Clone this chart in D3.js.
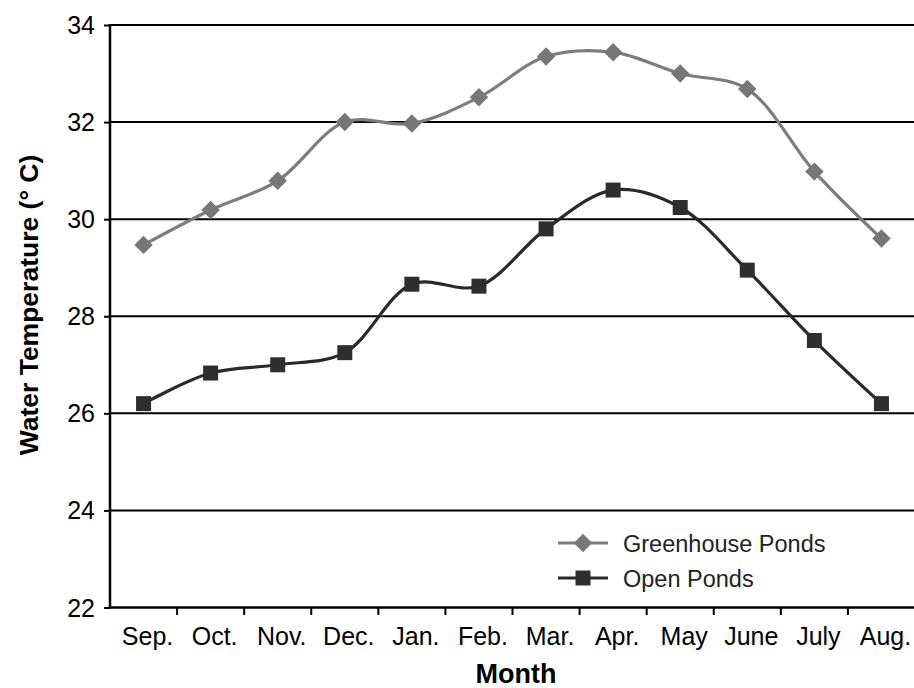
<!DOCTYPE html>
<html><head><meta charset="utf-8">
<script src="https://cdn.jsdelivr.net/npm/d3@7/dist/d3.min.js"></script>
<style>body{margin:0;background:#fff}svg{display:block}text{font-family:"Liberation Sans",Arial,sans-serif}</style>
</head><body>
<svg id="c" width="914" height="688"></svg>
<script>
const months = ["Sep.","Oct.","Nov.","Dec.","Jan.","Feb.","Mar.","Apr.","May","June","July","Aug."];
const greenhouse = [29.47,30.19,30.79,32.0,31.97,32.51,33.35,33.44,33.0,32.68,30.98,29.6];
const openPonds = [26.2,26.83,27.0,27.25,28.66,28.62,29.8,30.6,30.24,28.95,27.5,26.2];
const yTicks = [22,24,26,28,30,32,34];
const seriesNames = ["Greenhouse Ponds","Open Ponds"];

const svg = d3.select("#c");
const x = d3.scaleBand().domain(months).range([110, 915]);
const y = d3.scaleLinear().domain([22,34]).range([607.5, 25]);

// gridlines
svg.append("g").selectAll("line").data(yTicks.filter(d=>d>22)).join("line")
  .attr("x1",110).attr("x2",914).attr("y1",d=>y(d)).attr("y2",d=>y(d))
  .attr("stroke","#000").attr("stroke-width",2);

// y axis
const ya = svg.append("g").attr("transform","translate(110,0)")
  .call(d3.axisLeft(y).tickValues(yTicks).tickSize(6).tickPadding(9).tickFormat(d3.format("d")));
ya.select(".domain").attr("stroke","#000").attr("stroke-width",2.5).attr("d","M0,24V608.5");
ya.selectAll(".tick line").attr("stroke","#000").attr("stroke-width",2);
ya.selectAll("text").attr("font-size",25).attr("fill","#000").attr("dy","0.34em");

// x axis
const xa = svg.append("g").attr("transform","translate(0,607.5)")
  .call(d3.axisBottom(x).tickSize(0).tickPadding(0));
xa.select(".domain").attr("stroke","#000").attr("stroke-width",2.5).attr("d","M109,0H914");
xa.selectAll(".tick text").attr("font-size",25).attr("fill","#000").attr("y",37).attr("dy",0).attr("dx",4);
// boundary ticks
svg.append("g").selectAll("line").data(months.slice(1)).join("line")
  .attr("x1",d=>x(d)).attr("x2",d=>x(d)).attr("y1",607.5).attr("y2",615)
  .attr("stroke","#000").attr("stroke-width",2);

const cx = d=>x(d)+x.bandwidth()/2;
const line = d3.line().x((d,i)=>cx(months[i])).y(d=>y(d)).curve(d3.curveCatmullRom.alpha(0.5));

const gCol = "#7d7d7d", oCol = "#2a2a2a";
svg.append("path").datum(greenhouse).attr("d",line).attr("fill","none").attr("stroke",gCol).attr("stroke-width",3.2);
svg.append("path").datum(openPonds).attr("d",line).attr("fill","none").attr("stroke",oCol).attr("stroke-width",3.2);

const diamond = d3.symbol().type(d3.symbolSquare).size(170);
svg.append("g").selectAll("path").data(greenhouse).join("path")
  .attr("d",diamond()).attr("transform",(d,i)=>`translate(${cx(months[i])},${y(d)}) rotate(45)`)
  .attr("fill","#777");
svg.append("g").selectAll("rect").data(openPonds).join("rect")
  .attr("x",(d,i)=>cx(months[i])-7.5).attr("y",d=>y(d)-7.5).attr("width",15).attr("height",15)
  .attr("fill","#2e2e2e");

// legend
const lg = svg.append("g");
const rows = [{n:seriesNames[0],c:gCol,y:543},{n:seriesNames[1],c:oCol,y:578}];
rows.forEach((r,i)=>{
  lg.append("line").attr("x1",558).attr("x2",608).attr("y1",r.y).attr("y2",r.y).attr("stroke",r.c).attr("stroke-width",3.2);
  if(i===0) lg.append("path").attr("d",diamond()).attr("transform",`translate(583,${r.y}) rotate(45)`).attr("fill","#777");
  else lg.append("rect").attr("x",575.5).attr("y",r.y-7.5).attr("width",15).attr("height",15).attr("fill","#2e2e2e");
  lg.append("text").attr("x",623).attr("y",r.y+9).attr("font-size",23.5).attr("fill","#222").text(r.n);
});

// titles
svg.append("text").attr("transform","translate(38,305) rotate(-90)").attr("text-anchor","middle")
  .attr("font-size",26.5).attr("font-weight","bold").attr("fill","#000").text("Water Temperature (° C)");
svg.append("text").attr("x",516).attr("y",683).attr("text-anchor","middle")
  .attr("font-size",27).attr("font-weight","bold").attr("fill","#000").text("Month");
</script>
</body></html>
